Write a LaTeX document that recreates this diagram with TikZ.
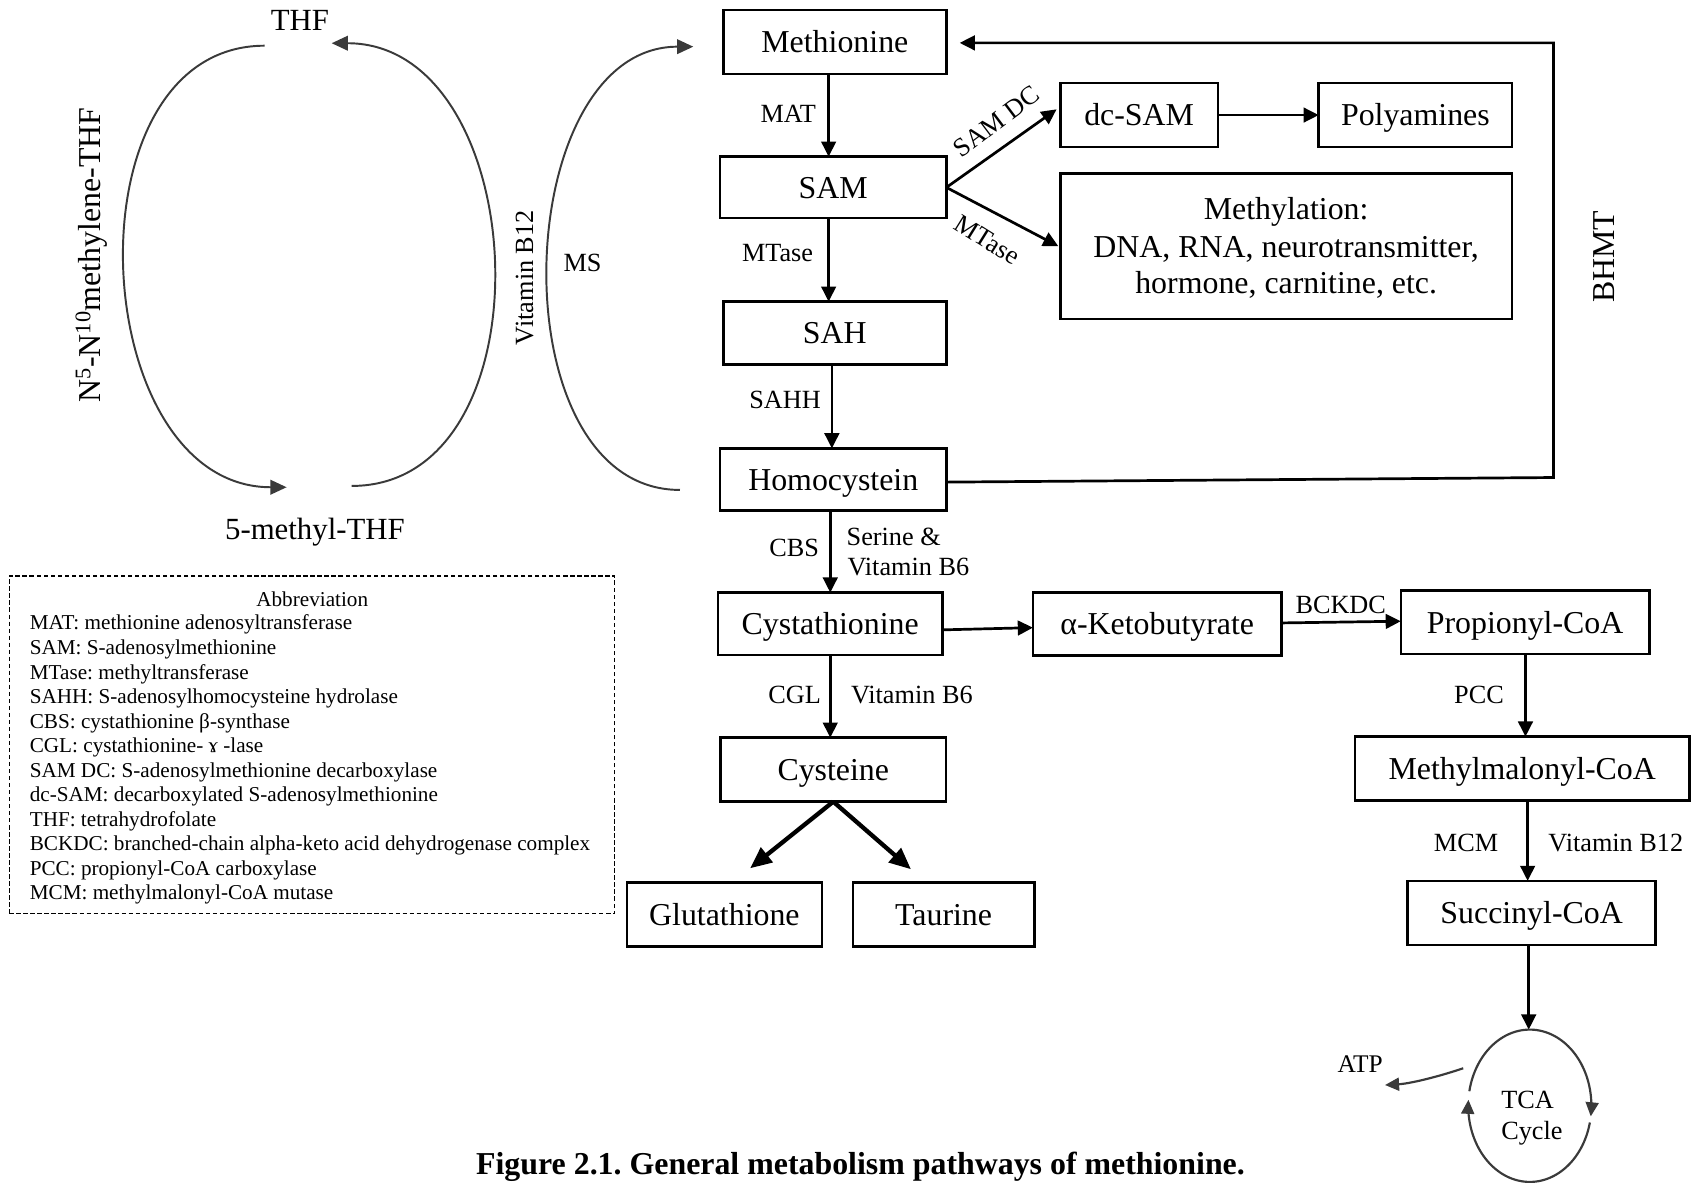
\documentclass[tikz,border=0pt]{standalone}
\usepackage{fontspec}
\setmainfont{Liberation Serif}
\usetikzlibrary{arrows.meta,calc}
\frenchspacing
% font sizes (1 unit = 1pt)
\newcommand\dgboxfont{\fontsize{29.5}{34.2}\selectfont}
\newcommand\dglabfont{\fontsize{24.3}{28}\selectfont}
\newcommand\dgcycfont{\fontsize{28.5}{32}\selectfont}
\newcommand\dgabbrfont{\fontsize{19.6}{22.7}\selectfont}
\newcommand\dgcapfont{\fontsize{29.5}{34}\selectfont\bfseries}
\definecolor{arcgray}{HTML}{3A3A3A}
\tikzset{
  box/.style={draw, line width=2.3pt, inner sep=0pt, outer sep=0pt,
    font=\dgboxfont, text height=20pt, text depth=0pt},
  lab/.style={font=\dglabfont, inner sep=0pt},
  cyc/.style={font=\dgcycfont, inner sep=0pt},
  abbr/.style={font=\dgabbrfont, inner sep=0pt},
  arr/.style={-{Triangle[length=14pt,width=13.5pt]}, line width=2.5pt},
  bigarr/.style={-{Triangle[length=20pt,width=17pt]}, line width=4pt},
  arcarr/.style={-{Triangle[length=15pt,width=13.5pt]}, line width=1.8pt, draw=arcgray, fill=none},
  tcaarr/.style={-{Triangle[length=13pt,width=12pt]}, line width=2pt, draw=arcgray},
}
\begin{document}
\begin{tikzpicture}[x=1pt,y=-1pt]
\useasboundingbox (0,0) rectangle (1568,1095);
\fill[white] (0,0) rectangle (1568,1095);

% ---- main pathway boxes ----
\node[box, minimum width=206.5pt, minimum height=59.2pt] (meth) at (772.75,38.9) {Methionine};
\node[box, minimum width=209.5pt, minimum height=57pt] (sam) at (771.25,173.5) {SAM};
\node[box, minimum width=206.5pt, minimum height=58pt] (sah) at (772.75,308.2) {SAH};
\node[box, minimum width=209.5pt, minimum height=57.5pt] (homo) at (771.25,443.75) {Homocystein};
\node[box, minimum width=208pt, minimum height=58pt] (cysta) at (768.5,577.5) {Cystathionine};
\node[box, minimum width=208.6pt, minimum height=59.2pt] (cysteine) at (771.3,712.4) {Cysteine};
\node[box, minimum width=180.6pt, minimum height=59.2pt] (glut) at (670.5,846.6) {Glutathione};
\node[box, minimum width=168pt, minimum height=59.2pt] (taurine) at (873.4,846.6) {Taurine};
\node[box, minimum width=146pt, minimum height=59pt] (dcsam) at (1054.4,106.5) {dc-SAM};
\node[box, minimum width=179pt, minimum height=59pt] (poly) at (1310.1,106.5) {Polyamines};
\node[box, minimum width=418.2pt, minimum height=134.6pt] (methyl) at (1190.5,227.9) {};
\node[font=\dgboxfont, inner sep=0pt, anchor=base] (methylA) at (1190.5,203.6) {Methylation:};
\node[font=\dgboxfont, inner sep=0pt, anchor=base] (methylB) at (1190.5,237.9) {DNA, RNA, neurotransmitter,};
\node[font=\dgboxfont, inner sep=0pt, anchor=base] (methylC) at (1190.5,272) {hormone, carnitine, etc.};
\node[box, minimum width=230.1pt, minimum height=58.3pt] (aketo) at (1071.15,577.45) {α-Ketobutyrate};
\node[box, minimum width=230.1pt, minimum height=58.6pt] (prop) at (1411.65,576) {Propionyl-CoA};
\node[box, minimum width=310pt, minimum height=59.2pt] (mmcoa) at (1409,711.4) {Methylmalonyl-CoA};
\node[box, minimum width=229.4pt, minimum height=59.3pt] (succ) at (1417.7,845) {Succinyl-CoA};

% ---- main arrows ----
\draw[arr] ([xshift=-5.75pt]meth.south) -- ([xshift=-4.25pt]sam.north);
\draw[arr] ([xshift=-4.25pt]sam.south) -- ([xshift=-5.75pt]sah.north);
\draw[arr] ([xshift=-2.75pt]sah.south) -- ([xshift=-1.25pt]homo.north);
\draw[arr] ([xshift=-2.75pt]homo.south) -- (cysta.north);
\draw[arr] (cysta.south) -- ([xshift=-2.8pt]cysteine.north);
\draw[arr] (sam.east) -- ([xshift=-3.4pt,yshift=5.3pt]dcsam.west);
\draw[arr] (sam.east) -- ([xshift=-1.8pt]methyl.west);
\draw[arr] (dcsam.east) -- (poly.west);
\draw[arr] ([yshift=-5.5pt]cysta.east) -- ([yshift=-3.5pt]aketo.west);
\draw[arr] ([yshift=0.85pt]aketo.east) -- ([yshift=1pt]prop.west);
\draw[arr] ([xshift=0.35pt]prop.south) -- ([xshift=3pt]mmcoa.north);
\draw[arr] ([xshift=5pt]mmcoa.south) -- ([xshift=-3.7pt]succ.north);

% homocysteine back to methionine (BHMT)
\coordinate (bhmtB) at (1438,442);
\coordinate (bhmtT) at (1438,39.7);
\coordinate (methin) at (888.3,39.7);
\draw[arr, line join=miter] ([yshift=-2.5pt]homo.east) -- (bhmtB) -- (bhmtT) -- (methin);

% cysteine branches
\coordinate (glutin) at (694.3,803.7);
\coordinate (taurin) at (843.2,804.6);
\draw[bigarr] (cysteine.south) -- (glutin);
\draw[bigarr] (cysteine.south) -- (taurin);

% ---- enzyme and cofactor labels ----
\node[lab, anchor=base] (lMAT) at (729.6,113) {MAT};
\node[lab, anchor=base] (lMTase) at (719.7,241.7) {MTase};
\node[lab, anchor=base] (lSAHH) at (726.6,378.5) {SAHH};
\node[lab, anchor=base] (lCBS) at (735,515) {CBS};
\node[lab, anchor=base west] (lSer) at (783.5,505) {Serine \&};
\node[lab, anchor=base west] (lB6a) at (784.3,533.1) {Vitamin B6};
\node[lab, anchor=base] (lCGL) at (735.5,651) {CGL};
\node[lab, anchor=base west] (lB6b) at (787.5,651) {Vitamin B6};
\node[lab, anchor=base] (lBCKDC) at (1241,567.7) {BCKDC};
\node[lab, anchor=base] (lPCC) at (1369,651) {PCC};
\node[lab, anchor=base] (lMCM) at (1357,788.3) {MCM};
\node[lab, anchor=base west] (lB12r) at (1433,788.3) {Vitamin B12};
\node[lab, rotate=37] (lSAMDC) at (922.5,112.6) {SAM DC};
\node[lab, rotate=-32] (lMTase2) at (913.9,222.1) {MTase};
\node[font=\dgboxfont, inner sep=0pt, rotate=90, anchor=base] (lBHMT) at (1494.8,237.8) {BHMT};

% ---- folate cycle ----
\node[cyc, anchor=base] (thf) at (277.7,27.8) {THF};
\node[cyc, anchor=base] (mthf) at (291.5,499) {5-methyl-THF};
\node[font=\fontsize{29.5}{32}\selectfont, inner sep=0pt, rotate=90, anchor=base] (n510) at (92.6,236)
  {N\textsuperscript{5}-N\textsuperscript{10}methylene-THF};
\coordinate (thfL) at (245,42.3);
\coordinate (mthfL) at (265.3,451);
\coordinate (mthfR) at (325.5,449.8);
\coordinate (thfR) at (307,40);
\draw[arcarr] (thfL) .. controls (59.3,42.3) and (79.3,451) .. (mthfL);
\draw[arcarr] (mthfR) .. controls (512.5,449.8) and (494,40) .. (thfR);

% methionine synthase arc
\coordinate (msB) at (629.4,453.5);
\coordinate (msT) at (641.7,43.2);
\draw[arcarr] (msB) .. controls (458.7,453.5) and (471,43.2) .. (msT);
\node[lab, rotate=90, anchor=base] (lB12) at (493.5,257) {Vitamin B12};
\node[lab, anchor=base west] (lMS) at (521.4,251.5) {MS};

% ---- TCA cycle ----
\coordinate (tcatop) at (1415,953);
\draw[arr] ([xshift=-2.7pt]succ.south) -- (tcatop);
\draw[tcaarr] plot[domain=191:368, samples=90] ({1416+57*cos(\x)}, {1023.5+70.5*sin(\x)});
\draw[tcaarr] plot[domain=12.7:184.5, samples=90] ({1416+57*cos(\x)}, {1023.5+70.5*sin(\x)});
\node[lab, anchor=base] (tcaA) at (1414,1026) {TCA};
\node[lab, anchor=base] (tcaB) at (1418,1055) {Cycle};
\node[font=\fontsize{23.5}{28}\selectfont, inner sep=0pt, anchor=base] (atp) at (1259,992.8) {ATP};
\coordinate (atpout) at (1354.4,988.8);
\coordinate (atpin) at (1282,1004.3);
\draw[tcaarr] (atpout) .. controls (1330,997) and (1305,1003) .. (atpin);

% ---- abbreviation legend ----
\node[draw, dash pattern=on 4pt off 2.5pt, line width=1.3pt, minimum width=560.4pt,
  minimum height=312.4pt, inner sep=0pt] (abbrbox) at (288.8,689.2) {};
\node[abbr, anchor=base] (abbrT) at (289,561.5) {Abbreviation};
\foreach \t [count=\i] in {
  MAT: methionine adenosyltransferase,
  SAM: S-adenosylmethionine,
  MTase: methyltransferase,
  SAHH: S-adenosylhomocysteine hydrolase,
  CBS: cystathionine β-synthase,
  CGL: cystathionine- ɤ -lase,
  SAM DC: S-adenosylmethionine decarboxylase,
  dc-SAM: decarboxylated S-adenosylmethionine,
  THF: tetrahydrofolate,
  BCKDC: branched-chain alpha-keto acid dehydrogenase complex,
  PCC: propionyl-CoA carboxylase,
  MCM: methylmalonyl-CoA mutase}
  \node[abbr, anchor=base west] (abbr\i) at (27.4,{583.1+22.7*(\i-1)}) {\t};

% ---- caption ----
\node[font=\dgcapfont, inner sep=0pt, anchor=base] (caption) at (796.5,1087)
  {Figure 2.1. General metabolism pathways of methionine.};
\end{tikzpicture}
\end{document}
